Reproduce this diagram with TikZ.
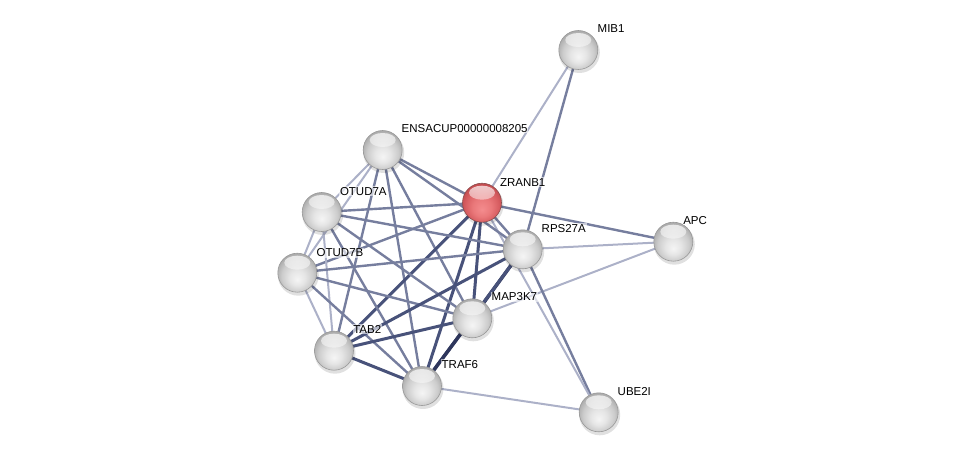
\documentclass[tikz,border=0pt]{standalone}
\usepackage{fontspec}
\setmainfont{Liberation Sans}
\usetikzlibrary{shadings,fadings}
\pgfdeclarelayer{background}
\pgfsetlayers{background,main}
\definecolor{elight}{RGB}{172,177,200}
\definecolor{emid}{RGB}{118,126,158}
\definecolor{edark}{RGB}{72,82,122}
\definecolor{evdark}{RGB}{46,54,92}
\pgfdeclareradialshading{graysph}{\pgfpoint{0bp}{-9bp}}{color(0bp)=(white!96!black); color(10bp)=(white!90!black); color(20bp)=(white!80!black); color(28bp)=(white!66!black); color(40bp)=(white!52!black)}
\pgfdeclareradialshading{redsph}{\pgfpoint{0bp}{-9bp}}{color(0bp)=(rgb,255:red,244;green,140;blue,142); color(12bp)=(rgb,255:red,234;green,120;blue,122); color(22bp)=(rgb,255:red,214;green,92;blue,96); color(30bp)=(rgb,255:red,184;green,68;blue,72); color(40bp)=(rgb,255:red,150;green,50;blue,54)}
\tikzset{
  prot/.style={circle, minimum size=39pt, inner sep=0pt, shading=graysph, draw=gray!80, line width=0.6pt,
    path picture={\fill[white, opacity=0.75, path fading=south] ([yshift=10pt]path picture bounding box.center) ellipse (13pt and 7pt);}},
  seed/.style={prot, shading=redsph, draw=red!35!black!70},
  lbl/.style={anchor=base west, inner sep=0.8pt, fill=white, fill opacity=0.6, text opacity=1, font=\fontsize{11.5}{13}\selectfont},
  lt/.style={draw=elight, line width=2pt},
  md/.style={draw=emid, line width=2.4pt},
  dk/.style={draw=edark, line width=3pt},
  vd/.style={draw=evdark, line width=3.5pt},
}
\begin{document}
\begin{tikzpicture}[x=1pt,y=-1pt]
\useasboundingbox (0,0) rectangle (976,458);
% shadows
\foreach \x/\y in {578.3/50, 482/202.7, 522.7/249.3, 673.3/241.7, 382.7/150, 321.7/212, 297.3/272.7, 472.3/318.3, 334/350.7, 422/386, 598.7/412.3}{
  \fill[black, opacity=0.12] (\x+1,\y+2.5) circle (20.5);
}
% nodes
\node[prot] (mib) at (578.3,50) {};
\node[seed] (z) at (482,202.7) {};
\node[prot] (r) at (522.7,249.3) {};
\node[prot] (apc) at (673.3,241.7) {};
\node[prot] (e) at (382.7,150) {};
\node[prot] (a) at (321.7,212) {};
\node[prot] (b) at (297.3,272.7) {};
\node[prot] (m) at (472.3,318.3) {};
\node[prot] (tb) at (334,350.7) {};
\node[prot] (tf) at (422,386) {};
\node[prot] (u) at (598.7,412.3) {};
% edges
\begin{pgfonlayer}{background}
\draw[lt] (mib.center) -- (z.center);
\draw[md] (mib.center) -- (r.center);
\draw[md] (z.center) -- (apc.center);
\draw[lt] (r.center) -- (apc.center);
\draw[lt] (m.center) -- (apc.center);
\draw[md] (r.center) -- (u.center);
\draw[lt] (z.center) -- (u.center);
\draw[lt] (tf.center) -- (u.center);
\draw[md] (e.center) -- (z.center);
\draw[lt] (e.center) -- (a.center);
\draw[lt] (e.center) -- (b.center);
\draw[md] (e.center) -- (r.center);
\draw[md] (e.center) -- (m.center);
\draw[md] (e.center) -- (tb.center);
\draw[md] (e.center) -- (tf.center);
\draw[md] (z.center) -- (a.center);
\draw[md] (z.center) -- (b.center);
\draw[md] (z.center) -- (r.center);
\draw[dk] (z.center) -- (m.center);
\draw[dk] (z.center) -- (tb.center);
\draw[dk] (z.center) -- (tf.center);
\draw[lt] (a.center) -- (b.center);
\draw[md] (a.center) -- (r.center);
\draw[md] (a.center) -- (m.center);
\draw[lt] (a.center) -- (tb.center);
\draw[md] (a.center) -- (tf.center);
\draw[md] (b.center) -- (r.center);
\draw[md] (b.center) -- (m.center);
\draw[lt] (b.center) -- (tb.center);
\draw[md] (b.center) -- (tf.center);
\draw[vd] (r.center) -- (m.center);
\draw[dk] (r.center) -- (tb.center);
\draw[dk] (r.center) -- (tf.center);
\draw[dk] (m.center) -- (tb.center);
\draw[vd] (m.center) -- (tf.center);
\draw[dk] (tb.center) -- (tf.center);
\end{pgfonlayer}
% labels
\node[lbl] (lmib) at (596.7,32.3) {MIB1};
\node[lbl] (le) at (400.7,132) {ENSACUP00000008205};
\node[lbl] (lz) at (499,186) {ZRANB1};
\node[lbl] (la) at (339,195) {OTUD7A};
\node[lbl] (lr) at (540.7,232.3) {RPS27A};
\node[lbl] (lapc) at (682.3,224) {APC};
\node[lbl] (lb) at (315.7,256.7) {OTUD7B};
\node[lbl] (lm) at (490.7,300.7) {MAP3K7};
\node[lbl] (ltb) at (352.3,333.3) {TAB2};
\node[lbl] (ltf) at (440.7,368.3) {TRAF6};
\node[lbl] (lu) at (616.7,395) {UBE2I};
\end{tikzpicture}
\end{document}
